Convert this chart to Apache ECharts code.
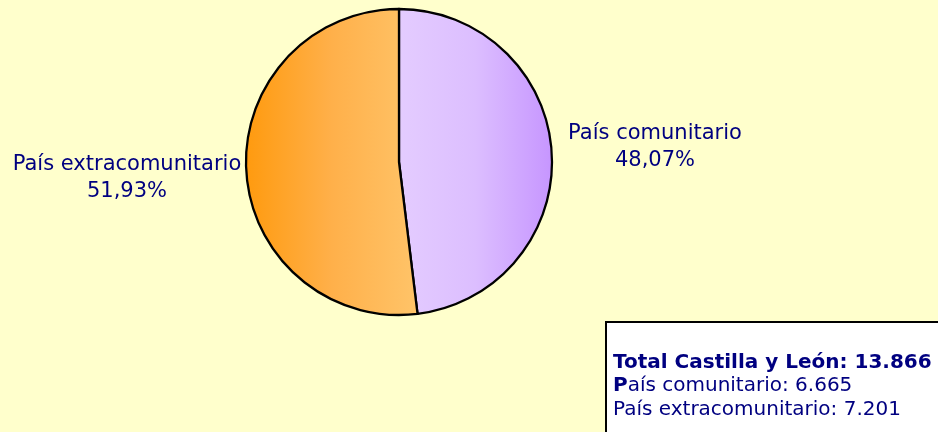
<!DOCTYPE html>
<html><head><meta charset="utf-8">
<script src="https://cdn.jsdelivr.net/npm/echarts@6/dist/echarts.min.js"></script>
<style>html,body{margin:0;padding:0;background:#FFFFCC}#c{width:938px;height:432px}</style>
</head><body><div id="c"></div>
<script>
const categories = ['País comunitario', 'País extracomunitario'];
const values = [6665, 7201];
const totalLabel = 'Total Castilla y León';
const total = values.reduce((a, b) => a + b, 0);
const fmtNum = n => String(n).replace(/\B(?=(\d{3})+(?!\d))/g, '.');
const fmtPct = p => p.toFixed(2).replace('.', ',') + '%';
const FONT = '"DejaVu Sans", Verdana, sans-serif';

const grads = [
  new echarts.graphic.LinearGradient(0, 0, 1, 0, [{offset: 0, color: '#E4CCFF'}, {offset: 0.5, color: '#DCBEFF'}, {offset: 1, color: '#C695FF'}]),
  new echarts.graphic.LinearGradient(0, 0, 1, 0, [{offset: 0, color: '#FF9A0E'}, {offset: 0.5, color: '#FFB04A'}, {offset: 1, color: '#FFC469'}])
];
const labelPos = [
  {x: 655, y: 147},
  {x: 127, y: 178}
];

const chart = echarts.init(document.getElementById('c'), null, {renderer: 'canvas'});
chart.setOption({
  backgroundColor: '#FFFFCC',
  animation: false,
  series: [{
    type: 'pie',
    center: [399, 162],
    radius: 153,
    startAngle: 90,
    clockwise: true,
    data: categories.map((c, i) => ({name: c, value: values[i], itemStyle: {color: grads[i]}})),
    itemStyle: {borderColor: '#000', borderWidth: 2.3},
    emphasis: {disabled: true},
    label: {
      show: true,
      position: 'outside',
      formatter: p => p.name + '\n' + fmtPct(p.value / total * 100),
      color: '#000080',
      fontFamily: FONT,
      fontSize: 21,
      lineHeight: 27,
      align: 'center',
      overflow: 'none',
      width: 300
    },
    labelLine: {show: false},
    labelLayout: p => ({x: labelPos[p.dataIndex].x, y: labelPos[p.dataIndex].y, align: 'center', verticalAlign: 'middle'})
  }],
  graphic: [{
    type: 'group',
    left: 605, top: 321,
    children: [
      {type: 'rect', shape: {x: 0, y: 0, width: 340, height: 120}, style: {fill: '#fff', stroke: '#000', lineWidth: 2}},
      {type: 'text', x: 7, y: 29, style: {
        text: '{b|' + totalLabel + ': ' + fmtNum(total) + '}\n{b|' + categories[0].charAt(0) + '}{n|' + categories[0].slice(1) + ': ' + fmtNum(values[0]) + '}\n{n|' + categories[1] + ': ' + fmtNum(values[1]) + '}',
        rich: {
          b: {fontWeight: 'bold', fontSize: 20, fill: '#000080', fontFamily: FONT, lineHeight: 23.5},
          n: {fontSize: 20, fill: '#000080', fontFamily: FONT, lineHeight: 23.5}
        }
      }}
    ]
  }]
});
</script></body></html>
